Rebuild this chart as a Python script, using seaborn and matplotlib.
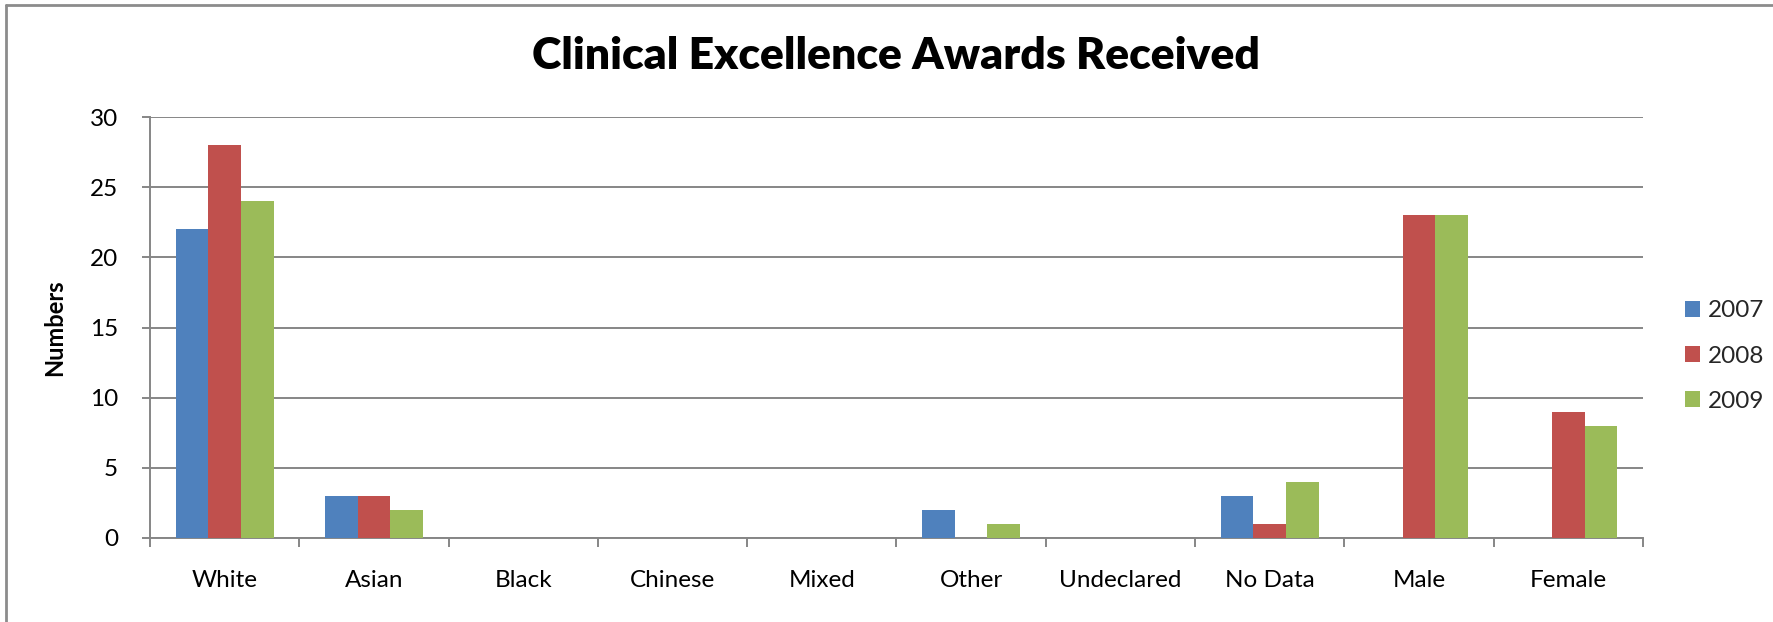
import matplotlib
matplotlib.use('Agg')
import matplotlib.pyplot as plt
import seaborn as sns
import pandas as pd
import numpy as np
from matplotlib.patches import Patch
from matplotlib.lines import Line2D

# data
categories = ['White', 'Asian', 'Black', 'Chinese', 'Mixed', 'Other',
              'Undeclared', 'No Data', 'Male', 'Female']
years = ['2007', '2008', '2009']
awards_2007 = [22, 3, 0, 0, 0, 2, 0, 3, 0, 0]
awards_2008 = [28, 3, 0, 0, 0, 0, 0, 1, 23, 9]
awards_2009 = [24, 2, 0, 0, 0, 1, 0, 4, 23, 8]
colors = ['#4F81BD', '#C0504D', '#9BBB59']

df = pd.DataFrame({
    'Category': categories * 3,
    'Year': np.repeat(years, len(categories)),
    'Numbers': awards_2007 + awards_2008 + awards_2009,
})

sns.set_theme(style="white")
plt.rcParams['font.family'] = ['Lato', 'DejaVu Sans']
grid_col = '#868686'

W, H = 1774, 622
fig = plt.figure(figsize=(W / 100, H / 100), dpi=100)
ax = fig.add_axes([150 / W, 84 / H, 1493 / W, 421 / H])

sns.barplot(data=df, x='Category', y='Numbers', hue='Year', order=categories,
            hue_order=years, palette=colors, width=0.656, gap=0,
            saturation=1, linewidth=0, ax=ax, legend=False, zorder=3)

ax.set_ylim(0, 30)
ax.set_xlim(-0.5, len(categories) - 0.5)
ax.set_yticks(range(0, 31, 5))
ax.yaxis.grid(True, color=grid_col, linewidth=1.4, zorder=0)
ax.set_axisbelow(True)

for s in ['top', 'right']:
    ax.spines[s].set_visible(False)
for s in ['left', 'bottom']:
    ax.spines[s].set_color(grid_col)
    ax.spines[s].set_linewidth(1.4)

# y ticks
ax.tick_params(axis='y', which='major', length=6, width=1.4, color=grid_col,
               pad=17, labelsize=17.5, labelcolor='black', left=True)
# x labels at centers, tick marks at category boundaries
ax.tick_params(axis='x', which='major', length=0, pad=23, labelsize=17.5,
               labelcolor='black')
ax.set_xticks(np.arange(-0.5, len(categories), 1), minor=True)
ax.tick_params(axis='x', which='minor', length=6.5, width=1.4, color=grid_col,
               bottom=True, direction='out')

ax.set_xlabel('')
ax.set_ylabel('Numbers', fontsize=17, fontweight='bold', color='black')
ax.yaxis.set_label_coords((66 - 150) / 1493, 0.5)

fig.text(896 / W, 1 - 56 / H, 'Clinical Excellence Awards Received',
         ha='center', va='center', fontsize=32, fontweight='heavy',
         color='black')

handles = [Patch(facecolor=c, edgecolor='none') for c in colors]
fig.legend(handles, years, loc='center left',
           bbox_to_anchor=(1685 / W, 1 - 356 / H), frameon=False,
           fontsize=17.5, handlelength=0.62, handleheight=0.62,
           handletextpad=0.33, labelspacing=1.0, borderpad=0,
           borderaxespad=0)

# chart border (right and bottom sides fall outside the image)
fig.add_artist(Line2D([6 / W, 1], [1 - 5 / H, 1 - 5 / H], color='#8c8c8c',
                      linewidth=2, transform=fig.transFigure))
fig.add_artist(Line2D([6 / W, 6 / W], [0, 1 - 5 / H], color='#8c8c8c',
                      linewidth=2, transform=fig.transFigure))

fig.savefig('out.png', dpi=100)
plt.close()
